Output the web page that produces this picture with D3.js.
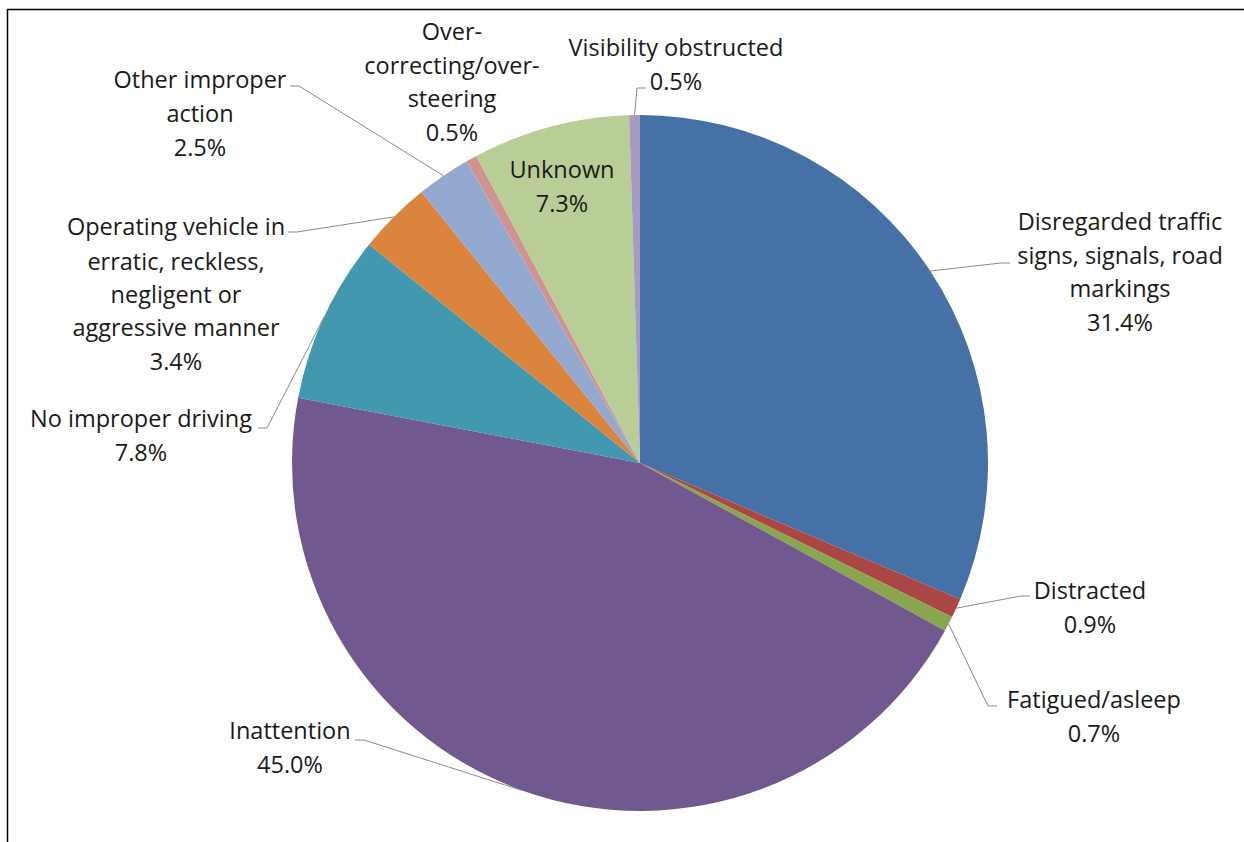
<!DOCTYPE html>
<html lang="en">
<head>
    <meta charset="UTF-8">
    <script src="https://d3js.org/d3.v7.min.js"></script>
    <title>Improper driving pie</title>
    <style>
        html, body { margin: 0; padding: 0; background: #fff; }
        svg { display: block; }
        text { font-family: "Open Sans", Lato, sans-serif; font-size: 23.5px; fill: #1a1a1a; }
    </style>
</head>
<body>
    <svg id="chart" width="1244" height="842"></svg>
    <script>
        const categories = [
            "Disregarded traffic signs, signals, road markings",
            "Distracted",
            "Fatigued/asleep",
            "Inattention",
            "No improper driving",
            "Operating vehicle in erratic, reckless, negligent or aggressive manner",
            "Other improper action",
            "Over-correcting/over-steering",
            "Unknown",
            "Visibility obstructed"
        ];
        const values = [31.4, 0.9, 0.7, 45.0, 7.8, 3.4, 2.5, 0.5, 7.3, 0.5];
        const colors = ["#4671a7", "#aa4643", "#89a54e", "#71588f", "#4198af",
                        "#db843d", "#93a9cf", "#d19392", "#b9cd96", "#a99bbd"];

        // label layout: wrapped lines, centre x, line centres y, leader anchor (null = none)
        const labelLayout = [
            { lines: ["Disregarded traffic", "signs, signals, road", "markings"], x: 1120, y: [222, 256, 289], anchor: [1010, 263] },
            { lines: ["Distracted"], x: 1090, y: [591], anchor: [1030, 596] },
            { lines: ["Fatigued/asleep"], x: 1094, y: [700], anchor: [997, 706] },
            { lines: ["Inattention"], x: 290, y: [731], anchor: [355, 740] },
            { lines: ["No improper driving"], x: 141, y: [419], anchor: [258, 428] },
            { lines: ["Operating vehicle in", "erratic, reckless,", "negligent or", "aggressive manner"], x: 176, y: [227, 262, 295, 328], anchor: [288, 232] },
            { lines: ["Other improper", "action"], x: 200, y: [80, 114], anchor: [290, 86] },
            { lines: ["Over-", "correcting/over-", "steering"], x: 452, y: [32, 66, 99], anchor: null },
            { lines: ["Unknown"], x: 562, y: [170], anchor: null },
            { lines: ["Visibility obstructed"], x: 676, y: [48], anchor: [646, 88] }
        ];

        const width = 1244, height = 842;
        const cx = 640, cy = 463, radius = 348;
        const lineGap = 33.5;

        const svg = d3.select("#chart");

        // chart frame (only left and top edges fall inside the picture)
        svg.append("rect")
            .attr("x", 7.5).attr("y", 9.5)
            .attr("width", 1400).attr("height", 1000)
            .attr("fill", "none")
            .attr("stroke", "#000")
            .attr("stroke-width", 1.5);

        const pie = d3.pie().sort(null).value(d => d)(values);
        const arc = d3.arc().innerRadius(0).outerRadius(radius);

        const g = svg.append("g").attr("transform", `translate(${cx},${cy})`);

        g.selectAll("path")
            .data(pie)
            .join("path")
            .attr("d", arc)
            .attr("fill", (d, i) => colors[i]);

        // leader lines
        const leaders = svg.append("g")
            .attr("fill", "none")
            .attr("stroke", "#8a8a8a")
            .attr("stroke-width", 1);

        pie.forEach((d, i) => {
            const lay = labelLayout[i];
            if (!lay.anchor) return;
            const a = (d.startAngle + d.endAngle) / 2;
            const px = cx + radius * Math.sin(a);
            const py = cy - radius * Math.cos(a);
            const [ax, ay] = lay.anchor;
            const bx = ax + (ax > cx ? -9 : 9);
            leaders.append("path")
                .attr("d", d3.line()([[ax, ay], [bx, ay], [px, py]]));
        });

        // labels
        const fmt = d3.format(".1f");
        const labels = svg.append("g").attr("text-anchor", "middle");
        pie.forEach((d, i) => {
            const lay = labelLayout[i];
            const rows = lay.lines.map((t, k) => [t, lay.y[k]]);
            const lastY = lay.y[lay.y.length - 1] + lineGap;
            rows.push([fmt(values[i]) + "%", lastY]);
            rows.forEach(([t, y]) => {
                labels.append("text")
                    .attr("x", lay.x)
                    .attr("y", y)
                    .attr("dy", "0.36em")
                    .text(t);
            });
        });
    </script>
</body>
</html>
